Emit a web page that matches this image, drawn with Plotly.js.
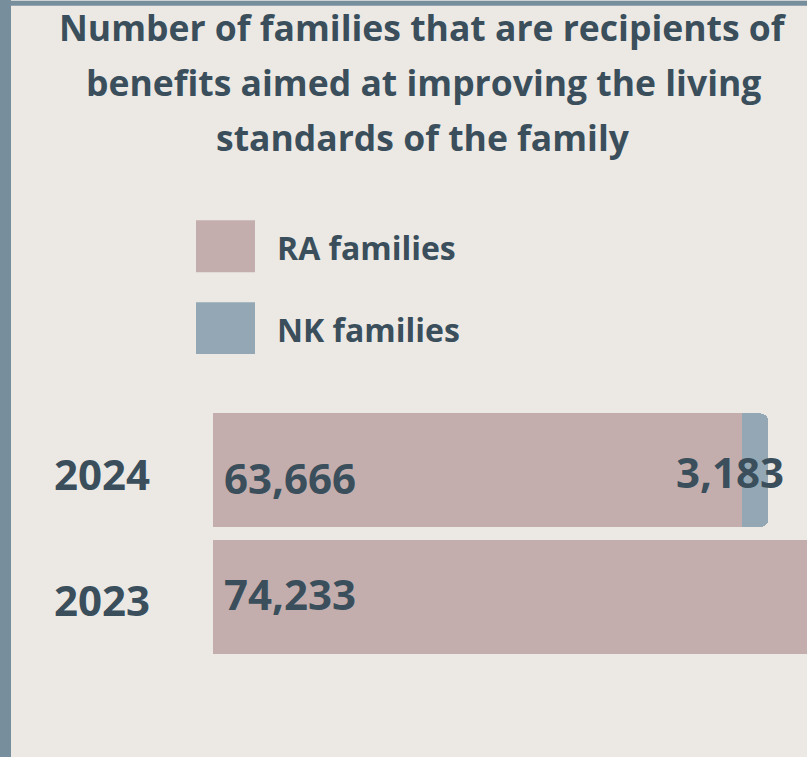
<!DOCTYPE html>
<html>
<head>
<meta charset="utf-8">
<script src="https://cdn.plot.ly/plotly-3.0.1.min.js"></script>
<style>
  html, body { margin: 0; padding: 0; background: #778E9C; width: 807px; height: 757px; overflow: hidden; }
  #chart { position: absolute; left: 11px; top: 0px; width: 796px; height: 757px; }
</style>
</head>
<body>
<div id="chart"></div>
<script>
// ---- data ----
const years = ['2023', '2024'];
const raFamilies = [74233, 63666];
const nkFamilies = [null, 3183];
const seriesNames = ['RA families', 'NK families'];
const titleLines = [
  'Number of families that are recipients of',
  'benefits aimed at improving the living',
  'standards of the family'
];

// ---- styles ----
const W = 796, H = 757;
const M = { l: 202, r: 0, t: 407, b: 96.5 };
const plotW = W - M.l - M.r, plotH = H - M.t - M.b;
const px = x => (x - M.l) / plotW;
const py = y => (H - M.b - y) / plotH;
const textColor = '#3A4F5B';
const raColor = '#C4AEAD';
const nkColor = '#93A8B4';
const stripColor = '#778E9C';
const bg = '#ECE9E5';
const FONT = '"Open Sans", "Noto Sans", sans-serif';

const fmt = v => v.toLocaleString('en-US');

const traces = [
  { type: 'bar', orientation: 'h', name: seriesNames[0], y: years, x: raFamilies,
    marker: { color: raColor }, hoverinfo: 'skip' },
  { type: 'bar', orientation: 'h', name: seriesNames[1], y: years, x: nkFamilies,
    marker: { color: nkColor }, hoverinfo: 'skip' }
];

const annotations = [];
const shapes = [];

// top frame strip
shapes.push({ type: 'rect', xref: 'paper', yref: 'paper', x0: px(0), x1: px(W),
  y0: py(5), y1: py(0), fillcolor: stripColor, line: { width: 0 }, layer: 'below' });

// title lines
const titleCenters = [26, 81, 136];
titleLines.forEach((t, i) => {
  annotations.push({ xref: 'paper', yref: 'paper', x: px(412), y: py(titleCenters[i]),
    text: t, showarrow: false, xanchor: 'center', yanchor: 'middle', borderpad: 0,
    font: { family: FONT, size: 35.5, color: textColor, weight: 700 } });
});

// value labels (category index positions on the y axis)
const raYShift = [3, -7];
years.forEach((yr, i) => {
  annotations.push({ x: 0, y: i, xref: 'x', yref: 'y', text: fmt(raFamilies[i]),
    showarrow: false, xanchor: 'left', yanchor: 'middle', xshift: 9, yshift: raYShift[i],
    font: { family: FONT, size: 42, color: textColor, weight: 700 } });
  if (nkFamilies[i] != null) {
    annotations.push({ x: raFamilies[i] + nkFamilies[i], y: i, xref: 'x', yref: 'y', text: fmt(nkFamilies[i]),
      showarrow: false, xanchor: 'right', yanchor: 'middle', xshift: 18, yshift: -1,
      font: { family: FONT, size: 42, color: textColor, weight: 700 } });
  }
});

// legend (drawn manually for large swatches)
const legendColors = [raColor, nkColor];
const legendTops = [220, 302];
seriesNames.forEach((nm, i) => {
  shapes.push({ type: 'rect', xref: 'paper', yref: 'paper', x0: px(185), x1: px(244),
    y0: py(legendTops[i]), y1: py(legendTops[i] + 52), fillcolor: legendColors[i], line: { width: 0 } });
  annotations.push({ xref: 'paper', yref: 'paper', x: px(264), y: py(legendTops[i] + 27),
    text: nm, showarrow: false, xanchor: 'left', yanchor: 'middle',
    font: { family: FONT, size: 32, color: textColor, weight: 700 } });
});

const layout = {
  width: W, height: H,
  margin: M,
  paper_bgcolor: bg, plot_bgcolor: bg,
  barmode: 'stack',
  bargap: 0.102,
  barcornerradius: 8,
  showlegend: false,
  xaxis: { range: [0, 71490], showgrid: false, zeroline: false, showline: false,
    showticklabels: false, fixedrange: true },
  yaxis: { type: 'category', categoryorder: 'array', categoryarray: years,
    range: [-0.5, 1.5], showgrid: false, zeroline: false, showline: false,
    ticks: '', ticklabelstandoff: 62, ticklabelshift: 5,
    tickfont: { family: FONT, size: 42, color: textColor, weight: 700 }, fixedrange: true },
  shapes: shapes,
  annotations: annotations
};

Plotly.newPlot('chart', traces, layout, { displayModeBar: false, staticPlot: true });
</script>
</body>
</html>
